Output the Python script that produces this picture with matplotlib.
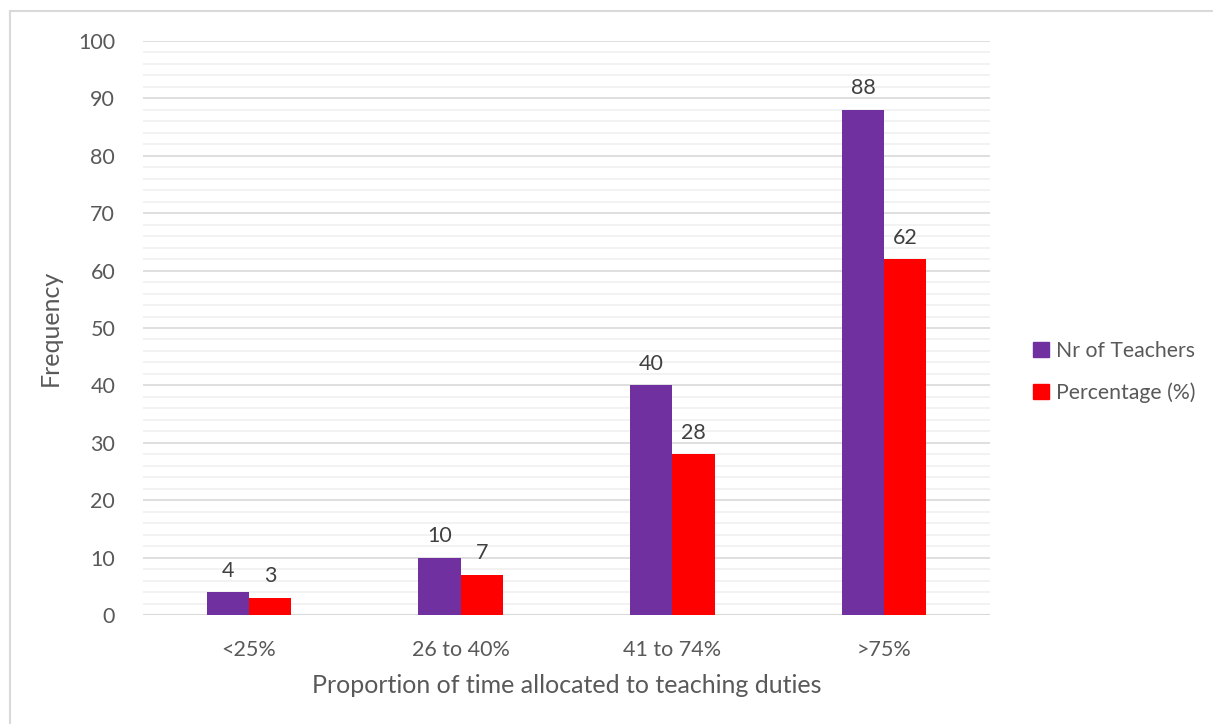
import numpy as np
import matplotlib
matplotlib.use("Agg")
import matplotlib.pyplot as plt
from matplotlib.patches import Patch
from matplotlib.lines import Line2D

plt.rcParams['font.family'] = ['Lato', 'DejaVu Sans']

categories = ["<25%", "26 to 40%", "41 to 74%", ">75%"]
teachers = [4, 10, 40, 88]
percentage = [3, 7, 28, 62]
series_names = ["Nr of Teachers", "Percentage (%)"]

purple = "#7030A0"
red = "#FF0000"
txt = "#595959"

fig = plt.figure(figsize=(12.13, 7.24), dpi=100)
ax = fig.add_axes([143/1213, 1 - 615/724, 847/1213, (615-41)/724])

# light frame round the chart area
fig.add_artist(Line2D([10/1213, 10/1213], [0, 1 - 11/724], transform=fig.transFigure,
                      color="#d9d9d9", lw=1.5))
fig.add_artist(Line2D([10/1213, 1], [1 - 11/724, 1 - 11/724], transform=fig.transFigure,
                      color="#d9d9d9", lw=1.5))

x = np.arange(len(categories))
w = 0.2
b1 = ax.bar(x - w/2, teachers, w, color=purple, zorder=3)
b2 = ax.bar(x + w/2, percentage, w, color=red, zorder=3)

for bars, vals in ((b1, teachers), (b2, percentage)):
    for r, v in zip(bars, vals):
        ax.text(r.get_x() + r.get_width()/2, v + 2.0, str(v), ha="center", va="bottom",
                fontsize=15.5, color="#404040")

ax.set_xlim(-0.5, 3.5)
ax.set_ylim(0, 100)
ax.set_yticks(np.arange(0, 101, 10))
ax.set_yticks(np.arange(0, 101, 2), minor=True)
ax.grid(axis="y", which="major", color="#d9d9d9", lw=1.2, zorder=0)
ax.grid(axis="y", which="minor", color="#f0f0f0", lw=1.2, zorder=0)
ax.tick_params(axis="y", which="both", length=0, labelsize=15.5, labelcolor=txt, pad=20)
ax.set_xticks(x)
ax.set_xticklabels(categories)
ax.tick_params(axis="x", length=0, labelsize=15.5, labelcolor=txt, pad=18)
for s in ax.spines.values():
    s.set_visible(False)
ax.axhline(0, color="#d9d9d9", lw=1.5, zorder=2)

ax.set_ylabel("Frequency", fontsize=18, color=txt, labelpad=12)
ax.set_xlabel("Proportion of time allocated to teaching duties", fontsize=18, color=txt, labelpad=10)

handles = [Patch(color=purple), Patch(color=red)]
fig.legend(handles, series_names, loc="center left", bbox_to_anchor=(1014/1213, 1 - 372/724),
           frameon=False, fontsize=15.3, labelcolor=txt, handlelength=0.75, handleheight=0.75,
           handletextpad=0.35, labelspacing=1.0)

fig.savefig("out.png", dpi=100, facecolor="white")
